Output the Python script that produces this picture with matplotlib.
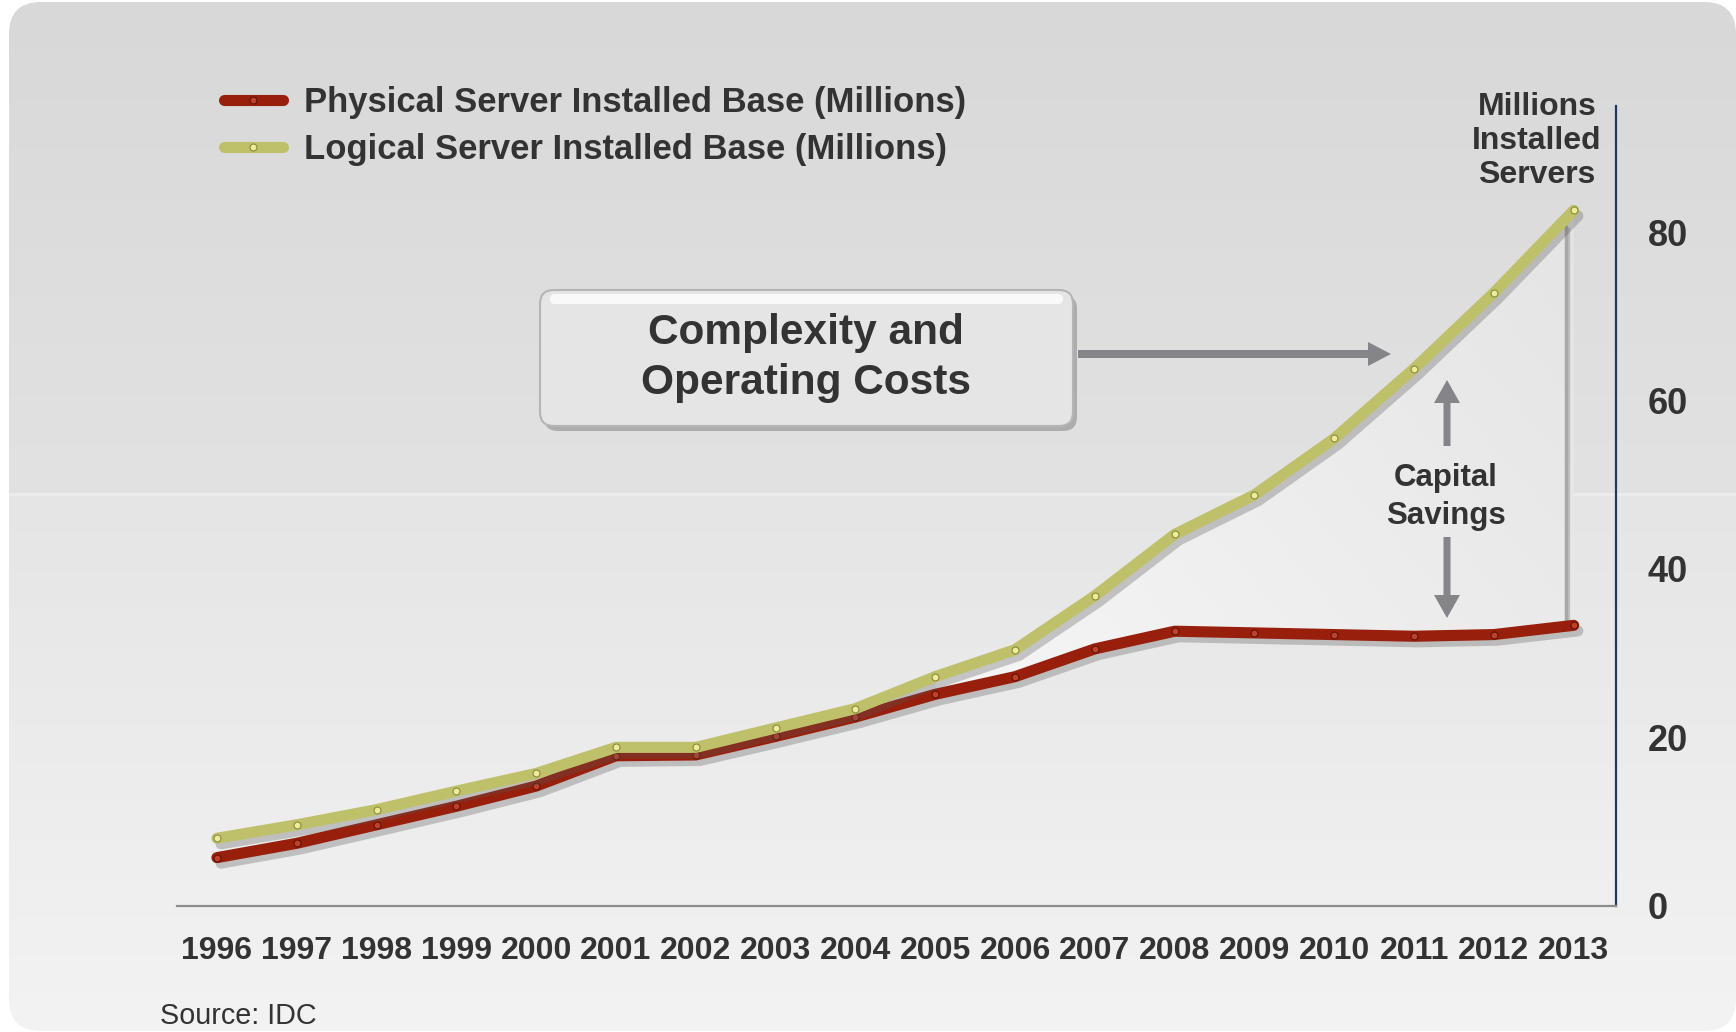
import numpy as np
import matplotlib
matplotlib.use("Agg")
import matplotlib.pyplot as plt
import matplotlib.patheffects as pe
from matplotlib.patches import FancyBboxPatch, FancyArrow, Polygon
from matplotlib.lines import Line2D
from matplotlib import font_manager as fm

# data (millions of installed servers)
years = list(range(1996, 2014))
physical = [5.7, 7.4, 9.6, 11.8, 14.2, 17.8, 17.9, 20.1, 22.4, 25.1, 27.2, 30.5,
            32.6, 32.4, 32.2, 32.0, 32.2, 33.3]
logical = [8.0, 9.6, 11.4, 13.6, 15.7, 18.8, 18.8, 21.1, 23.4, 27.2, 30.4, 36.8,
           44.1, 48.8, 55.5, 63.8, 72.8, 82.6]
y_ticks = [0, 20, 40, 60, 80]
series_names = ["Physical Server Installed Base (Millions)",
                "Logical Server Installed Base (Millions)"]

RED = "#981f0c"
YELLOW = "#bfc06a"
TEXT = "#333333"
ARROW = "#858589"

plt.rcParams["font.family"] = ["Liberation Sans", "DejaVu Sans"]

# the original uses a narrow bold face for the years
installed = {f.name for f in fm.fontManager.ttflist}
if "Liberation Sans Narrow" in installed:
    year_font = dict(family="Liberation Sans Narrow", size=26.5)
else:
    year_font = dict(family="Liberation Sans", size=23)

W, H = 1736, 1032
fig = plt.figure(figsize=(W / 100, H / 100), dpi=100)
fig.patch.set_facecolor("white")

# rounded grey panel with a vertical gradient
bg = fig.add_axes([0, 0, 1, 1], zorder=0)
bg.set_xlim(0, W)
bg.set_ylim(H, 0)
bg.axis("off")
rows = np.arange(H, dtype=float)
g = np.where(rows < 494, 216 + (226 - 216) * rows / 494,
             229 + (243 - 229) * (rows - 494) / (H - 494))
g[(rows >= 493) & (rows < 496)] = 236
img = np.repeat(g[:, None], 3, axis=1)[:, None, :] / 255
panel = FancyBboxPatch((9, 2), W - 9, H - 3, boxstyle="round,pad=0,rounding_size=32",
                       fc="none", ec="none")
bg.add_patch(panel)
im = bg.imshow(img, extent=(0, W, H, 0), aspect="auto", interpolation="bilinear")
im.set_clip_path(panel)

# main chart
ax = fig.add_axes([177 / W, (H - 905.6) / H, (1616 - 177) / W, (905.6 - 106) / H], zorder=1)
ax.patch.set_alpha(0)

# lighter area between the two series ("capital savings")
start = years.index(2005)
xs = np.array(years[start:], dtype=float)
poly_xy = np.vstack([np.column_stack([xs, logical[start:]]),
                     np.column_stack([xs[::-1], physical[start:][::-1]])])
clip = Polygon(poly_xy, closed=True, fc="none", ec="none")
ax.add_patch(clip)
u, v = np.meshgrid(np.linspace(0, 1, 200), np.linspace(0, 1, 200))
shade = (246 - 18 * (0.6 * u + 0.4 * v)) / 255
fill_img = np.dstack([shade, shade, shade])
fim = ax.imshow(fill_img, extent=(2005, 2013, 25, 85), origin="lower",
                aspect="auto", zorder=1)
fim.set_clip_path(clip)
ax.set_xlim(1995.5, 2013.53)
ax.set_ylim(0, 95)

vx = years[-1] - 0.1
ax.plot([vx, vx], [physical[-1], logical[-1] - 2], color="#a8a8a8", lw=2.5, zorder=2,
        path_effects=[pe.SimpleLineShadow(offset=(2, -1), shadow_color="#666666", alpha=0.3),
                      pe.Normal()])

shadow = [pe.SimpleLineShadow(offset=(3, -4), shadow_color="#555555", alpha=0.3), pe.Normal()]
ax.plot(years, physical, color=RED, lw=8, solid_capstyle="round", solid_joinstyle="round",
        path_effects=shadow, zorder=3)
ax.plot(years, physical, ls="none", marker="o", ms=5, mfc="#c2402a", mec="#5e1206",
        mew=0.8, zorder=4)
ax.plot(years, logical, color=YELLOW, lw=8, solid_capstyle="round", solid_joinstyle="round",
        path_effects=shadow, zorder=5)
ax.plot(years, logical, ls="none", marker="o", ms=5, mfc="#ecec9a", mec="#8a8a3a",
        mew=0.8, zorder=6)

for side in ["left", "top"]:
    ax.spines[side].set_visible(False)
ax.spines["bottom"].set_color("#8c8c8c")
ax.spines["bottom"].set_linewidth(1.6)
ax.spines["right"].set_color("#1f3864")
ax.spines["right"].set_linewidth(1.6)

ax.set_xticks(years)
ax.set_xticklabels([str(y) for y in years], fontweight="bold", color=TEXT, **year_font)
ax.tick_params(axis="x", length=0, pad=22)
ax.yaxis.tick_right()
ax.set_yticks(y_ticks)
ax.set_yticklabels([str(t) for t in y_ticks], fontweight="bold", fontsize=26, color=TEXT)
ax.tick_params(axis="y", length=0, pad=23)

handles = [
    Line2D([], [], color=RED, lw=8, solid_capstyle="round", marker="o", ms=5,
           mfc="#c2402a", mec="#5e1206", mew=0.8),
    Line2D([], [], color=YELLOW, lw=8, solid_capstyle="round", marker="o", ms=5,
           mfc="#ecec9a", mec="#8a8a3a", mew=0.8),
]
leg = ax.legend(handles, series_names, loc="upper left",
                bbox_to_anchor=(224 / W, 1 - 86 / H), bbox_transform=fig.transFigure,
                frameon=False, prop=dict(family="Liberation Sans", weight="bold", size=24.9),
                handlelength=1.7, handletextpad=0.6, labelspacing=0.4,
                borderpad=0, borderaxespad=0)
for t in leg.get_texts():
    t.set_color(TEXT)

# annotation layer in pixel coordinates
ov = fig.add_axes([0, 0, 1, 1], zorder=2)
ov.set_xlim(0, W)
ov.set_ylim(H, 0)
ov.axis("off")
ov.patch.set_alpha(0)

ov.add_patch(FancyBboxPatch((544, 295), 533, 136, boxstyle="round,pad=0,rounding_size=14",
                            fc="#6f6f6f", ec="none", alpha=0.45))
ov.add_patch(FancyBboxPatch((540, 290), 533, 136, boxstyle="round,pad=0,rounding_size=14",
                            fc="#e5e5e5", ec="#b5b5b5", lw=1.5))
ov.add_patch(FancyBboxPatch((550, 294), 513, 10, boxstyle="round,pad=0,rounding_size=5",
                            fc="white", ec="none", alpha=0.8))
ov.text(806, 358, "Complexity and\nOperating Costs", ha="center", va="center",
        fontsize=30.5, fontweight="bold", color=TEXT, linespacing=1.33)

ov.add_patch(FancyArrow(1078, 354, 1391 - 1078, 0, width=8, head_width=24, head_length=23,
                        length_includes_head=True, fc=ARROW, ec="none"))
ov.add_patch(FancyArrow(1447, 446, 0, 380 - 446, width=7, head_width=26, head_length=23,
                        length_includes_head=True, fc=ARROW, ec="none"))
ov.add_patch(FancyArrow(1447, 537, 0, 618 - 537, width=7, head_width=26, head_length=23,
                        length_includes_head=True, fc=ARROW, ec="none"))

ov.text(1446, 497, "Capital\nSavings", ha="center", va="center", fontsize=22.5,
        fontweight="bold", color=TEXT, linespacing=1.36)
ov.text(1537, 141, "Millions\nInstalled\nServers", ha="center", va="center", fontsize=23,
        fontweight="bold", color=TEXT, linespacing=1.17)
ov.text(160, 1030, "Source: IDC", ha="left", va="bottom", fontsize=20.7, color=TEXT)

fig.savefig("out.png", dpi=100)
